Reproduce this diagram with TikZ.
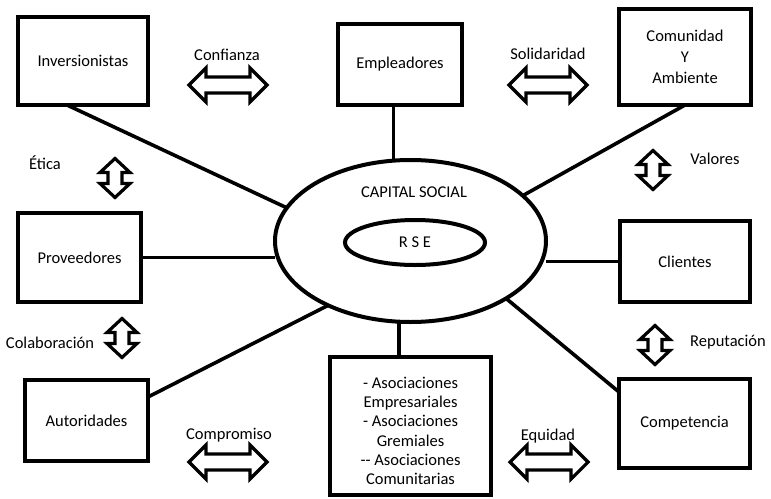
\documentclass[tikz,border=0pt]{standalone}
\usepackage{fontspec}
\setmainfont{Carlito}
\usetikzlibrary{shapes.geometric}
\begin{document}
\begin{tikzpicture}[x=1pt,y=-1pt,
  every node/.style={font=\fontsize{16.5}{19.3}\selectfont, inner sep=0pt, outer sep=0pt},
  actor/.style={draw, rectangle, line width=4pt, align=center},
  ring/.style={draw, ellipse, line width=4pt},
  link/.style={line width=3.6pt},
  dblarrow/.style={draw=black, fill=white, line width=3.2pt, line join=miter},
  pics/harrow/.style={code={
    \draw[dblarrow] (-39,0) -- (-22,17) -- (-22,8) -- (22,8) -- (22,17) -- (39,0)
      -- (22,-17) -- (22,-8) -- (-22,-8) -- (-22,-17) -- cycle;
  }},
  pics/varrow/.style={code={
    \draw[dblarrow] (0,-19.5) -- (15,-5.5) -- (7,-5.5) -- (7,5.5) -- (15,5.5) -- (0,19.5)
      -- (-15,5.5) -- (-7,5.5) -- (-7,-5.5) -- (-15,-5.5) -- cycle;
  }}]
\useasboundingbox (0,0) rectangle (771,498);

% stakeholder boxes
\node[actor, minimum width=130, minimum height=88] (inv) at (83,61) {Inversionistas};
\node[actor, minimum width=124, minimum height=81] (emp) at (400,64.5) {Empleadores};
\node[actor, minimum width=132, minimum height=96] (com) at (685,57)
  {Comunidad\\[1.5pt]Y\\[1.5pt]Ambiente};
\node[actor, minimum width=123, minimum height=89] (prov) at (79.5,257.5) {Proveedores};
\node[actor, minimum width=130, minimum height=81] (cli) at (685,261.5) {Clientes};
\node[actor, minimum width=123, minimum height=81] (aut) at (86.5,420.5) {Autoridades};
\node[actor, minimum width=131, minimum height=89] (comp) at (684.5,423.5) {Competencia};
\node[actor, minimum width=161, minimum height=138] (asoc) at (410.5,426) {};
\node[align=center] (asoctext) at (410.5,431)
  {- Asociaciones\\Empresariales\\- Asociaciones\\Gremiales\\-{}- Asociaciones\\Comunitarias};

% central ellipses
\node[ring, minimum width=271, minimum height=162] (ell) at (410.5,241) {};
\node (capital) at (414,192) {CAPITAL SOCIAL};
\node[ring, minimum width=140, minimum height=45] (rse) at (415,242.5) {R S E};

% connectors to the centre
\draw[link] ([xshift=-16pt]inv.south) -- (ell.165);
\draw[link] (ell.102) -- (ell.102 |- emp.south);
\draw[link] (com.south) -- (ell.22);
\draw[link] (prov.east) -- (prov.east -| ell.west);
\draw[link] (cli.west) -- (cli.west -| ell.east);
\draw[link] ([yshift=23.5pt]aut.east) -- (ell.218);
\draw[link] ([yshift=31.5pt]comp.west) -- (ell.329);
\draw[link] (ell.262) -- (ell.262 |- asoc.north);

% value arrows and their labels
\pic at (228,85) {harrow};
\node (confianza) at (227,55) {Confianza};
\pic at (548,85) {harrow};
\node (solidaridad) at (548,54) {Solidaridad};
\pic at (228,462) {harrow};
\node (compromiso) at (229,435) {Compromiso};
\pic at (549,462) {harrow};
\node (equidad) at (548,436) {Equidad};
\pic at (115,178) {varrow};
\node (etica) at (45,163) {Ética};
\pic at (122,338) {varrow};
\node (colab) at (50,343) {Colaboración};
\pic at (653,170) {varrow};
\node (valores) at (715,159) {Valores};
\pic at (655,345) {varrow};
\node (reputacion) at (728,342) {Reputación};
\end{tikzpicture}
\end{document}
